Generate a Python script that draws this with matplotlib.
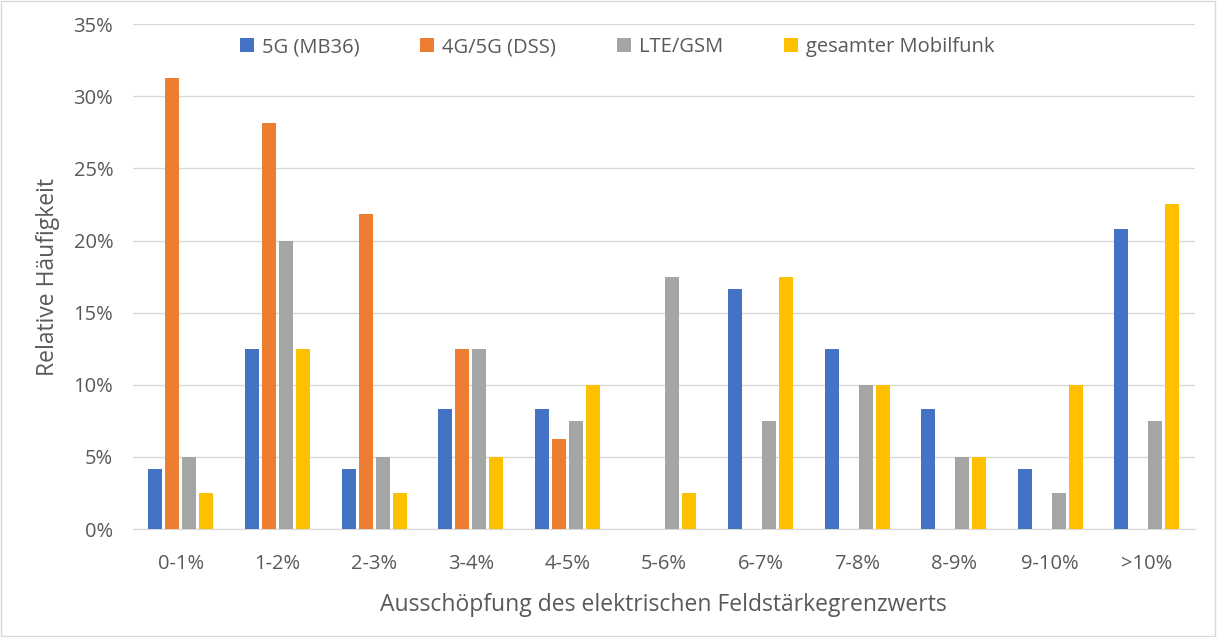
import numpy as np
import matplotlib.pyplot as plt
from matplotlib.ticker import PercentFormatter

categories = ['0-1%', '1-2%', '2-3%', '3-4%', '4-5%', '5-6%', '6-7%', '7-8%', '8-9%', '9-10%', '>10%']
series_names = ['5G (MB36)', '4G/5G (DSS)', 'LTE/GSM', 'gesamter Mobilfunk']
g5 = [4.17, 12.5, 4.17, 8.33, 8.33, 0, 16.67, 12.5, 8.33, 4.17, 20.83]
dss = [31.25, 28.125, 21.875, 12.5, 6.25, 0, 0, 0, 0, 0, 0]
lte = [5, 20, 5, 12.5, 7.5, 17.5, 7.5, 10, 5, 2.5, 7.5]
total = [2.5, 12.5, 2.5, 5, 10, 2.5, 17.5, 10, 5, 10, 22.5]
colors = ['#4472C4', '#ED7D31', '#A5A5A5', '#FFC000']

plt.rcParams['font.family'] = ['Open Sans', 'DejaVu Sans']

fig = plt.figure(figsize=(12.17, 6.37), dpi=100)
ax = fig.add_axes([0.109, 0.1695, 0.873, 0.7925])

x = np.arange(len(categories))
stride = 0.176
width = 0.145
for i, (vals, name, c) in enumerate(zip([g5, dss, lte, total], series_names, colors)):
    ax.bar(x + (i - 1.5) * stride, vals, width, color=c, label=name, zorder=3)

ax.set_xlim(-0.5, len(categories) - 0.5)
ax.set_ylim(0, 35)
ax.set_yticks(np.arange(0, 36, 5))
ax.yaxis.set_major_formatter(PercentFormatter(decimals=0))
ax.set_xticks(x)
ax.set_xticklabels(categories)
ax.grid(axis='y', color='#D9D9D9', linewidth=1, zorder=0)
for s in ['top', 'right', 'left']:
    ax.spines[s].set_visible(False)
ax.spines['bottom'].set_color('#D9D9D9')
ax.tick_params(axis='both', length=0, labelsize=14.5, colors='#595959')
ax.tick_params(axis='y', pad=14)
ax.tick_params(axis='x', pad=18)

ax.set_xlabel('Ausschöpfung des elektrischen Feldstärkegrenzwerts', fontsize=16.5, color='#595959', labelpad=14)
ax.set_ylabel('Relative Häufigkeit', fontsize=16.5, color='#595959', labelpad=10)

leg = ax.legend(loc='upper center', bbox_to_anchor=(0.456, 1.01), ncol=4, frameon=False,
                fontsize=14.5, handlelength=0.7, handleheight=0.7, columnspacing=3.0, handletextpad=0.4)
for t in leg.get_texts():
    t.set_color('#595959')

fig.patches.append(plt.Rectangle((0.001, 0.002), 0.997, 0.996, transform=fig.transFigure,
                                 fill=False, edgecolor='#D9D9D9', linewidth=1))

fig.savefig('out.png', dpi=100)
